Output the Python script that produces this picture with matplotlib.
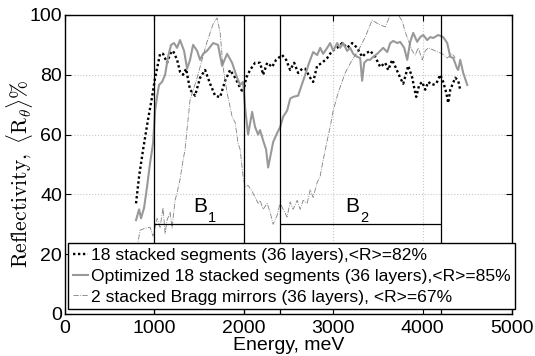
import numpy as np
import matplotlib
matplotlib.use('Agg')
import matplotlib.pyplot as plt

plt.rcParams['font.family'] = ['Liberation Sans', 'DejaVu Sans']

# 18 stacked segments (dotted black)
seg_x = [794, 828, 873, 928, 973, 1007, 1063, 1096, 1141, 1175, 1208, 1253, 1286, 1320,
         1354, 1398, 1454, 1510, 1566, 1622, 1678, 1734, 1790, 1846, 1902, 1958, 1991,
         2025, 2069, 2125, 2181, 2215, 2260, 2315, 2360, 2427, 2472, 2517, 2562, 2606,
         2651, 2685, 2741, 2774, 2819, 2875, 2931, 2987, 3043, 3099, 3154, 3210, 3266,
         3322, 3356, 3412, 3468, 3524, 3580, 3613, 3658, 3703, 3747, 3781, 3837, 3882,
         3904, 3926, 3960, 3993, 4027, 4061, 4105, 4150, 4195, 4228, 4262, 4284, 4307,
         4363, 4396, 4418]
seg_y = [37, 46, 55, 65, 72.5, 79, 87, 87, 84, 87, 88, 85, 81, 80,
         82, 75, 73, 79, 81.6, 77, 73, 72.5, 78, 81.6, 79, 75.6, 74,
         79, 81.6, 84, 84, 80, 84, 82.6, 85, 86.6, 85, 81.6, 84, 80.6,
         82, 82, 79, 77.6, 83, 84, 85.6, 88, 89, 90.6, 89, 90.6, 89,
         86, 87, 88, 86, 82.6, 84, 81.6, 85, 82, 79, 77, 83, 79,
         75.6, 72.6, 76.6, 77.6, 75, 77.6, 76.6, 77, 80, 77.6, 74, 70.6, 75,
         79, 78, 75]

# Optimized 18 stacked segments (solid gray)
opt_x = [794, 828, 850, 884, 917, 951, 984, 1007, 1029, 1051, 1085, 1119, 1152, 1186,
         1219, 1253, 1286, 1331, 1365, 1398, 1432, 1477, 1510, 1544, 1588, 1656, 1711,
         1756, 1812, 1868, 1924, 1958, 1991, 2013, 2047, 2092, 2125, 2159, 2181, 2215,
         2248, 2271, 2304, 2327, 2371, 2405, 2439, 2483, 2517, 2550, 2606, 2651, 2685,
         2729, 2774, 2819, 2853, 2886, 2931, 2964, 2998, 3043, 3076, 3110, 3154, 3188,
         3222, 3266, 3300, 3322, 3345, 3378, 3412, 3445, 3490, 3524, 3557, 3602, 3636,
         3669, 3714, 3747, 3792, 3826, 3859, 3893, 3937, 3971, 4005, 4049, 4083, 4117,
         4172, 4228, 4273, 4307, 4340, 4385, 4396, 4418, 4452, 4497]
opt_y = [31.4, 35, 32, 35.5, 42.5, 50.5, 57, 68, 72.6, 76.6, 77.6, 80, 86, 90,
         90.6, 89, 91.6, 88, 82, 85, 90, 88, 85, 87, 88, 90.6, 90,
         83, 87, 84, 79, 76.6, 77.6, 69, 60, 67.6, 62.5, 60, 61.5, 58,
         55, 49, 54, 57.5, 60.5, 62.5, 66, 68, 72, 72.6, 73, 77, 80,
         84, 87.6, 86.6, 89, 87, 89, 90.6, 88, 90.6, 89, 90.6, 88, 89,
         87, 86, 85.6, 78, 84, 85, 85, 86, 87, 88, 89, 87.6, 90.6,
         91.3, 90.6, 91, 89, 85, 91, 94, 91, 92.6, 93.3, 91.6, 92.6, 92.3,
         93.3, 92.6, 90.6, 86, 85.6, 82, 81.6, 85, 80.6, 76.6]

# 2 stacked Bragg mirrors (thin dash-dot gray)
brg_x = [805, 839, 895, 951, 984, 1029, 1063, 1096, 1119, 1141, 1175, 1197, 1230, 1253,
         1286, 1320, 1342, 1365, 1398, 1477, 1532, 1588, 1656, 1700, 1734, 1767, 1812,
         1868, 1902, 1935, 1958, 1980, 1991, 2013, 2047, 2092, 2125, 2159, 2181, 2215,
         2260, 2293, 2327, 2371, 2405, 2439, 2483, 2517, 2550, 2595, 2629, 2662, 2707,
         2741, 2774, 2819, 2852, 2886, 2931, 2964, 2998, 3054, 3132, 3210, 3277, 3356,
         3434, 3501, 3580, 3636, 3725, 3770, 3803, 3882, 3915, 3949, 3993, 4027, 4061,
         4139, 4217, 4273, 4329, 4363]
brg_y = [22, 28, 28.7, 29, 26, 32, 29, 35.5, 27, 31.4, 34, 28.7, 38, 40.5,
         45, 51.5, 55, 62, 71.6, 79, 85, 91, 97, 99, 94, 82.6, 74,
         66, 64, 57, 55, 49, 46, 42.5, 43, 41, 39, 37, 38, 35,
         37, 34, 30, 33, 37, 35, 32.4, 37.5, 35, 38, 35, 38, 37,
         41.5, 39, 44, 46, 51.5, 58, 62.5, 68, 74, 80.6, 85, 88, 92.6,
         98.3, 97, 96, 100, 100, 98, 94.3, 88, 86.6, 89, 85, 88, 89,
         88, 87, 85.6, 87, 85.6]

labels = ['18 stacked segments (36 layers),<R>=82%',
          'Optimized 18 stacked segments (36 layers),<R>=85%',
          '2 stacked Bragg mirrors (36 layers), <R>=67%']

# band edges and band marker level
band1 = (1000, 2000)
band2 = (2400, 4200)
band_level = 30

fig = plt.figure(figsize=(5.35, 3.56), dpi=100)
ax = fig.add_axes([0.1215, 0.118, 0.836, 0.840])

ax.plot(seg_x, seg_y, color='black', lw=1.7, linestyle=(0, (1, 1.1)), label=labels[0])
ax.plot(opt_x, opt_y, color='#999999', lw=1.5, label=labels[1])
ax.plot(brg_x, brg_y, color='#808080', lw=0.6, linestyle='-.', label=labels[2])

for xv in [band1[0], band1[1], band2[0], band2[1]]:
    ax.axvline(xv, color='black', lw=0.9)
ax.hlines(band_level, band1[0], band1[1], color='black', lw=0.9)
ax.hlines(band_level, band2[0], band2[1], color='black', lw=0.9)

# band names: "B" with a lowered, smaller index
for bx, idx in [(1432, '1'), (3132, '2')]:
    ax.text(bx, 34.1, 'B', fontsize=15, ha='left', va='baseline')
    ax.text(bx + 165, 30.8, idx, fontsize=10.5, ha='left', va='baseline')

ax.set_xlim(0, 5000)
ax.set_ylim(0, 100)
ax.set_xticks(np.arange(0, 5001, 1000))
ax.set_yticks(np.arange(0, 101, 20))
ax.grid(True, color='#c8c8c8', linestyle=':', lw=0.8)
ax.tick_params(direction='in', top=True, right=True, labelsize=14, length=4)
ax.tick_params(axis='x', pad=4)
ax.tick_params(axis='y', pad=2)
for s in ax.spines.values():
    s.set_linewidth(1.0)

ax.set_xlabel('Energy, meV', fontsize=14, labelpad=0)
ax.set_ylabel(r'$\mathrm{Reflectivity,}\ \langle\mathrm{R}_\theta\rangle\%$',
              fontsize=15.5, math_fontfamily='cm')
ax.yaxis.set_label_coords(-0.067, 0.468)

leg = ax.legend(loc='lower left', bbox_to_anchor=(0.007, 0.017), borderaxespad=0,
                fontsize=12.6, handlelength=0.9, handletextpad=0.15, labelspacing=0.32,
                borderpad=0.25, fancybox=False, framealpha=1, edgecolor='black')
leg.get_frame().set_linewidth(1.0)

fig.savefig('out.png', dpi=100)
